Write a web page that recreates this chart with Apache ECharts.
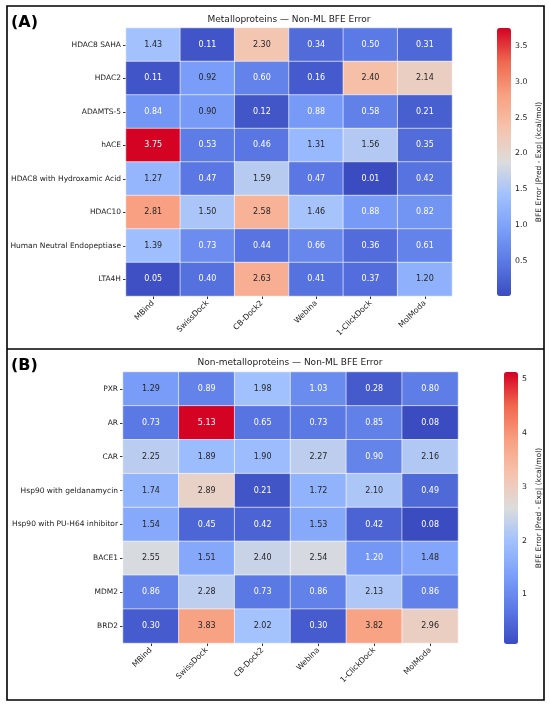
<!DOCTYPE html>
<html>
<head>
<meta charset="utf-8">
<script src="https://cdn.jsdelivr.net/npm/echarts@6/dist/echarts.min.js"></script>
<style>
  html, body { margin: 0; padding: 0; background: #fff; }
  #chart { width: 550px; height: 707px; }
</style>
</head>
<body>
<div id="chart"></div>
<script>
// docking tools (columns)
var models = ['MBind', 'SwissDock', 'CB-Dock2', 'Webina', '1-ClickDock', 'MolModa'];

// panel A: metalloproteins
var metalTargets = ['HDAC8 SAHA', 'HDAC2', 'ADAMTS-5', 'hACE', 'HDAC8 with Hydroxamic Acid',
    'HDAC10', 'Human Neutral Endopeptiase', 'LTA4H'];
var metalErrors = [
    [1.43, 0.11, 2.30, 0.34, 0.50, 0.31],
    [0.11, 0.92, 0.60, 0.16, 2.40, 2.14],
    [0.84, 0.90, 0.12, 0.88, 0.58, 0.21],
    [3.75, 0.53, 0.46, 1.31, 1.56, 0.35],
    [1.27, 0.47, 1.59, 0.47, 0.01, 0.42],
    [2.81, 1.50, 2.58, 1.46, 0.88, 0.82],
    [1.39, 0.73, 0.44, 0.66, 0.36, 0.61],
    [0.05, 0.40, 2.63, 0.41, 0.37, 1.20]
];
var metalTicks = [0.5, 1.0, 1.5, 2.0, 2.5, 3.0, 3.5];

// panel B: non-metalloproteins
var nonMetalTargets = ['PXR', 'AR', 'CAR', 'Hsp90 with geldanamycin', 'Hsp90 with PU-H64 inhibitor',
    'BACE1', 'MDM2', 'BRD2'];
var nonMetalErrors = [
    [1.29, 0.89, 1.98, 1.03, 0.28, 0.80],
    [0.73, 5.13, 0.65, 0.73, 0.85, 0.08],
    [2.25, 1.89, 1.90, 2.27, 0.90, 2.16],
    [1.74, 2.89, 0.21, 1.72, 2.10, 0.49],
    [1.54, 0.45, 0.42, 1.53, 0.42, 0.08],
    [2.55, 1.51, 2.40, 2.54, 1.20, 1.48],
    [0.86, 2.28, 0.73, 0.86, 2.13, 0.86],
    [0.30, 3.83, 2.02, 0.30, 3.82, 2.96]
];
var nonMetalTicks = [1, 2, 3, 4, 5];

// coolwarm-ish ramp
var coolwarm = ['#3b4cc0', '#5a78e4', '#7b9ff9', '#a0c0fe', '#dcdcdc',
    '#f6c3ad', '#f8a081', '#ef684f', '#d40223'];

function range(rows) {
    var all = [].concat.apply([], rows);
    return [Math.min.apply(null, all), Math.max.apply(null, all)];
}

function cells(rows) {
    var r = range(rows), out = [];
    rows.forEach(function (row, y) {
        row.forEach(function (v, x) {
            var t = (v - r[0]) / (r[1] - r[0]);
            out.push({
                value: [x, y, v],
                label: { color: (t < 0.235 || t > 0.85) ? '#ffffff' : '#262626' }
            });
        });
    });
    return out;
}

var metalRange = range(metalErrors);
var nonMetalRange = range(nonMetalErrors);

var panels = [
    { grid: { left: 126, top: 28, width: 326, height: 268 },
      bar: { left: 497, top: 28, width: 14, height: 268 }, gap: 24 },
    { grid: { left: 123, top: 372, width: 335, height: 271 },
      bar: { left: 504, top: 372, width: 14, height: 272 }, gap: 17 }
];

var cbLabel = 'BFE Error |Pred - Exp| (kcal/mol)';
var tickColor = '#333';

function catX(i) {
    return {
        type: 'category', gridIndex: i, data: models, position: 'bottom',
        axisLine: { show: false },
        axisTick: { show: true, alignWithLabel: true, length: 3, lineStyle: { color: tickColor } },
        axisLabel: { rotate: 45, fontSize: 7.8, color: '#222', margin: 6 },
        splitLine: { show: false }
    };
}

function catY(i, cats) {
    return {
        type: 'category', gridIndex: i, data: cats, inverse: true,
        axisLine: { show: false },
        axisTick: { show: true, alignWithLabel: true, length: 3, lineStyle: { color: tickColor } },
        axisLabel: { fontSize: 7.5, color: '#222', margin: 5 },
        splitLine: { show: false }
    };
}

function barY(i, r, ticks, decimals, gap) {
    return {
        type: 'value', gridIndex: i, min: r[0], max: r[1], position: 'right',
        name: cbLabel, nameLocation: 'middle', nameRotate: 90, nameGap: gap,
        nameTextStyle: { fontSize: 7.5, color: '#222' },
        axisLine: { show: false },
        axisTick: { show: true, length: 3, customValues: ticks, lineStyle: { color: tickColor } },
        axisLabel: { fontSize: 7.8, color: '#222', margin: 4, customValues: ticks,
            formatter: function (v) { return v.toFixed(decimals); } },
        splitLine: { show: false }
    };
}

function heat(i, rows) {
    return {
        type: 'heatmap', xAxisIndex: i, yAxisIndex: i, data: cells(rows),
        label: { show: true, fontSize: 8,
            formatter: function (p) { return p.value[2].toFixed(2); } },
        itemStyle: { borderColor: '#ffffff', borderWidth: 0.6 },
        emphasis: { disabled: true }
    };
}

function colorbar(idx, r, b) {
    return {
        type: 'continuous', seriesIndex: idx, min: r[0], max: r[1],
        left: b.left, top: b.top, itemWidth: b.width, itemHeight: b.height,
        padding: 0, calculable: false, realtime: false, text: null,
        showLabel: false, hoverLink: false,
        inRange: { color: coolwarm }
    };
}

var chart = echarts.init(document.getElementById('chart'));

var option = {
    animation: false,
    backgroundColor: '#fff',
    textStyle: { fontFamily: 'DejaVu Sans' },
    grid: [
        panels[0].grid, panels[1].grid,
        panels[0].bar, panels[1].bar
    ],
    xAxis: [
        catX(0), catX(1),
        { type: 'value', gridIndex: 2, show: false, min: 0, max: 1 },
        { type: 'value', gridIndex: 3, show: false, min: 0, max: 1 }
    ],
    yAxis: [
        catY(0, metalTargets), catY(1, nonMetalTargets),
        barY(2, metalRange, metalTicks, 1, panels[0].gap),
        barY(3, nonMetalRange, nonMetalTicks, 0, panels[1].gap)
    ],
    visualMap: [
        colorbar(0, metalRange, panels[0].bar),
        colorbar(1, nonMetalRange, panels[1].bar)
    ],
    series: [
        heat(0, metalErrors),
        heat(1, nonMetalErrors),
        { type: 'scatter', xAxisIndex: 2, yAxisIndex: 2, data: [] },
        { type: 'scatter', xAxisIndex: 3, yAxisIndex: 3, data: [] }
    ],
    graphic: [
        { type: 'rect', shape: { x: 7, y: 6, width: 537, height: 694 },
          style: { fill: 'none', stroke: '#000', lineWidth: 1.6 }, silent: true },
        { type: 'line', shape: { x1: 7, y1: 349, x2: 544, y2: 349 },
          style: { stroke: '#000', lineWidth: 1.6 }, silent: true },
        { type: 'text', style: { x: 11, y: 23, text: '(A)', font: 'bold 16px "DejaVu Sans"',
          fill: '#000', textVerticalAlign: 'middle' } },
        { type: 'text', style: { x: 11, y: 366, text: '(B)', font: 'bold 16px "DejaVu Sans"',
          fill: '#000', textVerticalAlign: 'middle' } },
        { type: 'text', style: { x: 289, y: 20, text: 'Metalloproteins \u2014 Non-ML BFE Error',
          font: '9px "DejaVu Sans"', fill: '#222', textAlign: 'center', textVerticalAlign: 'middle' } },
        { type: 'text', style: { x: 290, y: 363, text: 'Non-metalloproteins \u2014 Non-ML BFE Error',
          font: '9px "DejaVu Sans"', fill: '#222', textAlign: 'center', textVerticalAlign: 'middle' } }
    ]
};

chart.setOption(option);
</script>
</body>
</html>
